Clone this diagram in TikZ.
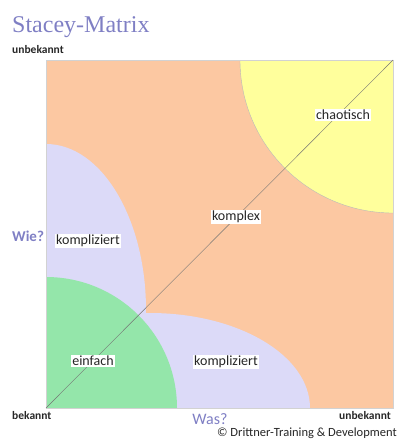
\documentclass[tikz,border=0pt]{standalone}
\usepackage{fontspec}
\setmainfont{Carlito}
\newfontfamily\titlefont{Liberation Serif}
\definecolor{peach}{HTML}{FCC8A2}
\definecolor{lemon}{HTML}{FFFF9C}
\definecolor{lilac}{HTML}{DCDAF8}
\definecolor{mint}{HTML}{94E6AA}
\definecolor{askblue}{HTML}{7F7FC4}

\begin{document}
\begin{tikzpicture}[x=1pt, y=-1pt,
    field/.style ={fill=white, inner sep=1.5pt, text=black!85, font=\fontsize{14}{14}\selectfont},
    axis/.style ={inner sep=0pt, text=black!85, font=\bfseries\fontsize{11.5}{12}\selectfont},
    question/.style ={inner sep=0pt, text=askblue, font=\fontsize{16}{16}\selectfont}]
   \useasboundingbox (0,0) rectangle (397,439);
   \coordinate (BL) at (46,408);
   \coordinate (TR) at (393,60);
   % quadrants
   \fill[peach] (BL) rectangle (TR);
   \begin{scope}
     \clip (BL) rectangle (TR);
     \fill[lilac] (46,310) ellipse [x radius=100, y radius=166];
     \fill[lilac] (150,408) ellipse [x radius=160, y radius=95];
     \fill[mint] (BL) circle [radius=131];
     \filldraw[fill=lemon, draw=gray!55] (TR) circle [radius=153];
   \end{scope}
   \draw[gray!35] (BL) rectangle (TR);
   \draw[gray!90!black] (BL) -- (TR);
   % domains
   \node[field] (chaos)   at (343,115) {chaotisch};
   \node[field] (complex) at (236,217) {komplex};
   \node[field] (compA)   at (88,241)  {kompliziert};
   \node[field] (compB)   at (226,362) {kompliziert};
   \node[field] (simple)  at (93,361)  {einfach};
   % axes
   \node[anchor=base west, inner sep=0pt, text=askblue, font=\titlefont\fontsize{24}{24}\selectfont] (title) at (12,32) {Stacey-Matrix};
   \node[axis, anchor=west] (unknownY) at (12,50)  {unbekannt};
   \node[axis, anchor=west] (known)    at (12,416) {bekannt};
   \node[axis, anchor=west] (unknownX) at (339,416) {unbekannt};
   \node[question, anchor=west, font=\bfseries\fontsize{15}{15}\selectfont] (how)  at (12,236) {Wie?};
   \node[question] (what) at (210,419) {Was?};
   \node[anchor=west, inner sep=0pt, text=black!85, font=\fontsize{12.5}{13}\selectfont] (copy) at (217,433) {© Drittner-Training \& Development};
\end{tikzpicture}
\end{document}
